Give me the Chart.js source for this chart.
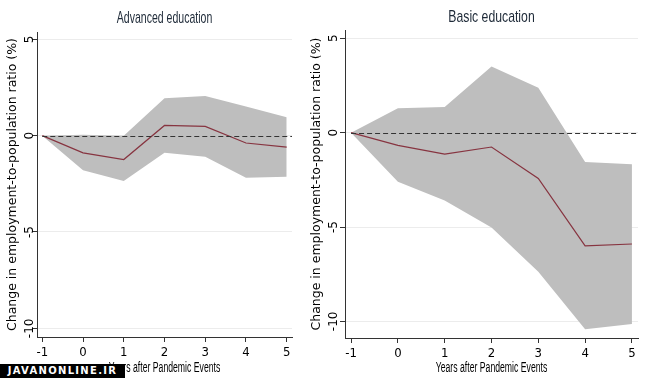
<!DOCTYPE html>
<html>
<head>
<meta charset="utf-8">
<script src="https://cdn.jsdelivr.net/npm/chart.js@4.4.1/dist/chart.umd.min.js"></script>
<style>
  body { margin: 0; background: #fff; width: 646px; height: 378px; overflow: hidden; position: relative; }
  canvas { position: absolute; top: 0; }
  #left-chart { left: 0; }
  #right-chart { left: 300px; }
  .mark {
    position: absolute; left: 0; top: 364px; width: 125px; height: 14px;
    background: #000; color: #fff; font: bold 10px "DejaVu Sans"; letter-spacing: 1.3px;
    line-height: 14px; text-align: center;
  }
</style>
</head>
<body>
<canvas id="left-chart" width="300" height="378"></canvas>
<canvas id="right-chart" width="346" height="378"></canvas>
<div class="mark">JAVANONLINE.IR</div>
<script>
'use strict';

const years = [-1, 0, 1, 2, 3, 4, 5];

const advancedEst = [0, -0.89, -1.24, 0.53, 0.48, -0.38, -0.60];
const advancedUpper = [0, 0.05, 0.0, 1.94, 2.06, 1.51, 0.96];
const advancedLower = [0, -1.79, -2.35, -0.89, -1.10, -2.18, -2.13];

const basicEst = [0, -0.67, -1.14, -0.76, -2.43, -6.0, -5.9];
const basicUpper = [0, 1.30, 1.36, 3.50, 2.38, -1.55, -1.67];
const basicLower = [0, -2.6, -3.6, -5.03, -7.37, -10.42, -10.14];

const xTitle = 'Years after Pandemic Events';
const yTitle = 'Change in employment-to-population ratio (%)';

const narrow = '"DejaVu Sans Condensed", "Liberation Sans", sans-serif';
const wide = '"DejaVu Sans", sans-serif';

const toPoints = (vals) => vals.map((v, i) => ({x: years[i], y: v}));

// stata-ish yline(0, lpattern(dash))
const zeroLine = {
    id: 'zeroLine',
    afterDatasetsDraw(chart) {
        const {ctx, chartArea, scales} = chart;
        const y = Math.round(scales.y.getPixelForValue(0)) + 0.5;
        ctx.save();
        ctx.strokeStyle = '#333';
        ctx.lineWidth = 1;
        ctx.setLineDash([5, 3]);
        ctx.beginPath();
        ctx.moveTo(scales.x.getPixelForValue(years[0]), y);
        ctx.lineTo(chartArea.right, y);
        ctx.stroke();
        ctx.restore();
    }
};

// the original graph is squeezed sideways, so the horizontal titles are drawn condensed
function squeezedText(ctx, text, cx, cy, font, color, sx) {
    ctx.save();
    ctx.translate(cx, cy);
    ctx.scale(sx, 1);
    ctx.font = font;
    ctx.fillStyle = color;
    ctx.textAlign = 'center';
    ctx.textBaseline = 'middle';
    ctx.fillText(text, 0, 0);
    ctx.restore();
}

const titles = {
    id: 'titles',
    afterDraw(chart, args, opts) {
        const {ctx, chartArea} = chart;
        const cx = (chartArea.left + chartArea.right) / 2;
        squeezedText(ctx, opts.title, cx, opts.titleY, '17px "Liberation Sans"', '#1e2a38', opts.titleScale);
        squeezedText(ctx, xTitle, cx, 368, '14px "Liberation Sans"', '#000', 0.62);
    }
};

function makeChart(id, title, est, upper, lower, opts) {
    const config = {
        type: 'line',
        data: {
            // first dataset is drawn last, so the estimate goes on top
            datasets: [
                {
                    data: toPoints(est),
                    fill: false,
                    borderColor: '#873440',
                    borderWidth: 1.2,
                    pointRadius: 0,
                },
                {
                    data: toPoints(upper),
                    fill: '+1',
                    backgroundColor: '#bebebe',
                    borderWidth: 0,
                    pointRadius: 0,
                },
                {
                    data: toPoints(lower),
                    fill: false,
                    borderWidth: 0,
                    pointRadius: 0,
                },
            ]
        },
        options: {
            responsive: false,
            animation: false,
            events: [],
            layout: {padding: {left: 0, right: 8, top: opts.top, bottom: 0}},
            plugins: {
                legend: {display: false},
                tooltip: {enabled: false},
                titles: {title: title, titleY: opts.titleY, titleScale: opts.titleScale},
            },
            scales: {
                x: {
                    type: 'linear',
                    min: -1.13,
                    max: 5.13,
                    ticks: {
                        stepSize: 1,
                        includeBounds: false,
                        maxRotation: 0,
                        color: '#000',
                        padding: 3,
                        font: {family: narrow, size: 13},
                    },
                    grid: {display: true, drawOnChartArea: false, tickLength: 5, tickColor: '#333'},
                    border: {color: '#333'},
                    afterFit: (scale) => { scale.height = opts.xHeight; },
                },
                y: {
                    min: opts.yMin,
                    max: opts.yMax,
                    ticks: {
                        stepSize: 5,
                        includeBounds: false,
                        minRotation: 90,
                        maxRotation: 90,
                        crossAlign: 'center',
                        padding: opts.tickPad,
                        color: '#000',
                        font: {family: wide, size: 12},
                    },
                    grid: {color: '#ececec', tickLength: 5, tickColor: '#333'},
                    border: {color: '#333'},
                    title: {
                        display: true,
                        text: yTitle,
                        color: '#000',
                        font: {family: wide, size: 12.5},
                        padding: {top: opts.yTitlePad, bottom: 0},
                    },
                    afterFit: (scale) => { scale.width = opts.yWidth; },
                },
            },
        },
        plugins: [zeroLine, titles],
    };
    return new Chart(document.getElementById(id), config);
}

makeChart('left-chart', 'Advanced education', advancedEst, advancedUpper, advancedLower, {
    yMin: -10.45, yMax: 5.38, yWidth: 37, xHeight: 41, top: 32,
    tickPad: -7.8, yTitlePad: 5, titleY: 18, titleScale: 0.62,
});

makeChart('right-chart', 'Basic education', basicEst, basicUpper, basicLower, {
    yMin: -10.88, yMax: 5.44, yWidth: 45, xHeight: 40, top: 30,
    tickPad: -3.8, yTitlePad: 9, titleY: 17, titleScale: 0.72,
});
</script>
</body>
</html>
